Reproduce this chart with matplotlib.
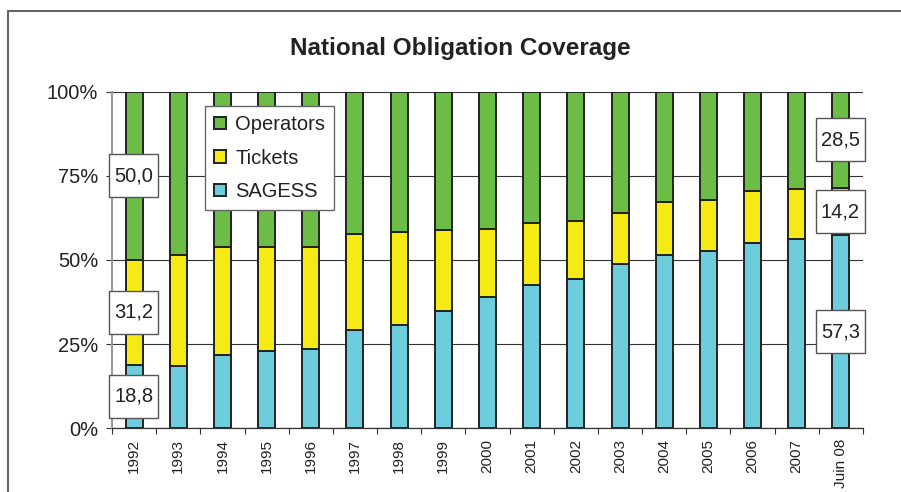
import matplotlib
matplotlib.use("Agg")
import matplotlib.pyplot as plt
from matplotlib.patches import Rectangle
import numpy as np

plt.rcParams['font.family'] = ['Liberation Sans', 'DejaVu Sans']

categories = ["1992", "1993", "1994", "1995", "1996", "1997", "1998", "1999", "2000",
              "2001", "2002", "2003", "2004", "2005", "2006", "2007", "Juin 08"]
sagess = [18.8, 18.5, 21.8, 23.0, 23.6, 29.2, 30.7, 34.7, 39.1, 42.7, 44.2, 48.8, 51.6, 52.7, 55.0, 56.2, 57.3]
tickets = [31.2, 33.0, 32.1, 30.9, 30.3, 28.5, 27.6, 24.2, 20.2, 18.4, 17.5, 15.1, 15.7, 15.2, 15.6, 15.0, 14.2]
operators = [round(100 - s - t, 1) for s, t in zip(sagess, tickets)]
operators[0] = 50.0
operators[-1] = 28.5
labelled = [0, 16]
yticks = [0, 25, 50, 75, 100]
ytick_labels = ["0%", "25%", "50%", "75%", "100%"]
title = "National Obligation Coverage"

c_green = "#6cbd45"
c_yellow = "#f5ea14"
c_cyan = "#6dcddc"
edge = "#222222"

fig = plt.figure(figsize=(9.01, 4.92), dpi=100)
ax = fig.add_axes([112/901, 1 - 428/492, 751/901, 336/492])

x = np.arange(len(categories))
w = 0.385
s = np.array(sagess); t = np.array(tickets); o = np.array(operators)
ax.bar(x, s, w, color=c_cyan, edgecolor=edge, linewidth=1.4, label="SAGESS", zorder=3)
ax.bar(x, t, w, bottom=s, color=c_yellow, edgecolor=edge, linewidth=1.4, label="Tickets", zorder=3)
ax.bar(x, o, w, bottom=s + t, color=c_green, edgecolor=edge, linewidth=1.4, label="Operators", zorder=3)

ax.set_xlim(-0.5, len(categories) - 0.5)
ax.set_ylim(0, 100)
ax.set_yticks(yticks)
ax.set_yticklabels(ytick_labels)
ax.yaxis.grid(True, color="#333333", linewidth=0.8, zorder=0)
ax.set_axisbelow(True)
ax.tick_params(axis='y', labelsize=14.5, length=4, width=0.8, color="#333333", pad=6, labelcolor="#222222")

ax.set_xticks(x)
ax.set_xticklabels(categories, rotation=90)
ax.set_xticks(np.arange(len(categories) + 1) - 0.5, minor=True)
ax.tick_params(axis='x', which='major', length=0, labelsize=11, pad=8, labelcolor="#222222")
ax.tick_params(axis='x', which='minor', length=4, width=0.8, color="#333333")

for sp in ['top', 'right']:
    ax.spines[sp].set_visible(False)
ax.spines['left'].set_color("#9a9a9a")
ax.spines['left'].set_linewidth(1.5)
ax.spines['bottom'].set_color("#333333")
ax.spines['bottom'].set_linewidth(0.9)

# value labels
bw = 49 / 44.18
bh = 43 / 3.36
for i in labelled:
    segs = [(s[i] / 2, s[i]), (s[i] + t[i] / 2, t[i]), (s[i] + t[i] + o[i] / 2, o[i])]
    for yc, v in segs:
        ax.add_patch(Rectangle((x[i] - bw / 2 - 0.01, yc - bh / 2), bw, bh, facecolor="white",
                               edgecolor="#555555", linewidth=1.0, zorder=5, clip_on=False))
        ax.text(x[i] - 0.01, yc, f"{v:.1f}".replace(".", ","), ha="center", va="center",
                fontsize=14.5, color="#222222", zorder=6)

handles, labels = ax.get_legend_handles_labels()
leg = ax.legend(handles[::-1], labels[::-1], loc="upper left", bbox_to_anchor=(0.124, 0.958),
                fontsize=14.5, frameon=True, fancybox=False, framealpha=1, borderaxespad=0,
                handlelength=0.6, handleheight=0.6, handletextpad=0.45, labelspacing=0.72,
                borderpad=0.45)
leg.get_frame().set_edgecolor("#666666")
leg.get_frame().set_linewidth(1.0)
leg.set_zorder(7)
for txt in leg.get_texts():
    txt.set_color("#222222")

fig.text(460/901, 1 - 49/492, title, ha="center", va="center", fontsize=17.5, fontweight="bold",
         color="#222222")

fig.add_artist(Rectangle((8/901, -0.1), 1.2, 1 - 11/492 + 0.1, transform=fig.transFigure,
                         fill=False, edgecolor="#666666", linewidth=1.5))

fig.savefig("out.png", dpi=100)
